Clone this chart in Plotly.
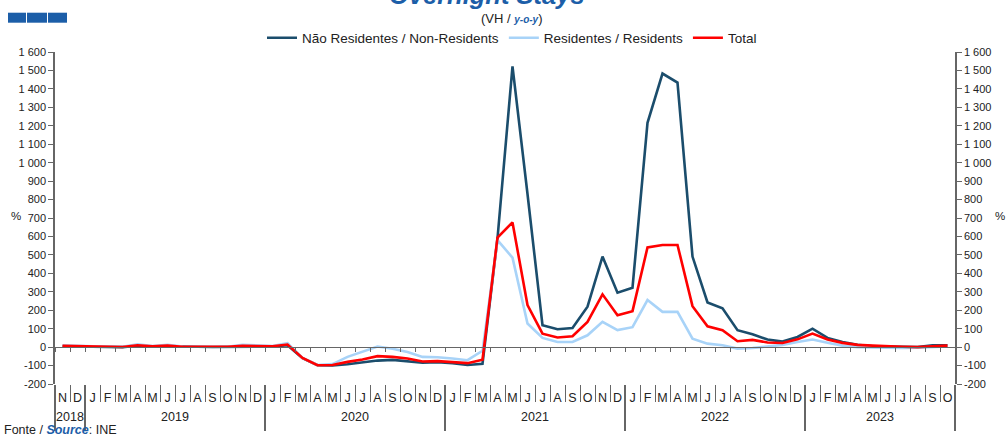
import plotly.graph_objects as go

# ---------------- data ----------------
month_letters = ["J", "F", "M", "A", "M", "J", "J", "A", "S", "O", "N", "D"]
start_year, start_month = 2018, 11  # Nov 2018 .. Oct 2023
n_months = 60

non_residents = [5, 4, 3, 2, 0, 8, 3, 6, 2, 2, 1, 2, 4, 5, 3, 10,
                 -60, -98, -99, -93, -82, -73, -69, -78, -85, -82, -87, -97, -90,
                 590, 1522, 830, 119, 97, 104, 219, 491, 295,
                 322, 1216, 1483, 1434, 491, 242, 210, 92, 70, 41, 30, 55,
                 100, 50, 28, 12, 5, 3, 0, 0, 10, 10]
residents = [10, 6, 5, 3, 2, 15, 6, 12, 3, 2, 3, 2, 12, 8, 6, 22,
             -58, -97, -92, -53, -27, 3, -9, -27, -53, -55, -62, -71, -20,
             580, 485, 128, 50, 28, 28, 64, 137, 92,
             108, 255, 191, 191, 46, 19, 10, -8, -5, 2, 12, 28,
             41, 24, 8, 0, -3, -5, -5, -3, 0, 3]
total = [7, 5, 4, 2, 1, 10, 4, 8, 2, 2, 2, 2, 7, 6, 5, 14,
         -59, -98, -97, -80, -67, -49, -53, -62, -78, -76, -80, -87, -68,
         594, 676, 228, 73, 52, 59, 137, 286, 173,
         195, 540, 554, 554, 222, 113, 92, 32, 39, 25, 22, 42,
         73, 41, 23, 12, 8, 3, 2, 0, 5, 8]

y_ticks = list(range(-200, 1601, 100))
y_ticktext = [f"{v:,}".replace(",", " ") for v in y_ticks]

# month / year label lists
month_labels, year_of_month = [], []
y, m = start_year, start_month
for i in range(n_months):
    month_labels.append(month_letters[m - 1])
    year_of_month.append(y)
    m += 1
    if m > 12:
        m = 1
        y += 1
x_idx = list(range(n_months))
years = sorted(set(year_of_month))
year_labels = [str(yr) for yr in years]
year_first = [year_of_month.index(yr) for yr in years]
year_last = [n_months - 1 - year_of_month[::-1].index(yr) for yr in years]
year_centers = [(a + b) / 2 for a, b in zip(year_first, year_last)]
year_bounds = [a - 0.5 for a in year_first] + [year_last[-1] + 0.5]

FONT = "Liberation Sans, Arial, sans-serif"
DARK = "#1B4D6C"
LIGHT = "#A8D3F8"
RED = "#FF0000"
BLUE = "#1C5EA8"
AX = "#666666"

fig = go.Figure()
fig.add_trace(go.Scatter(x=x_idx, y=non_residents, mode="lines", name="Não Residentes / Non-Residents",
                         line=dict(color=DARK, width=2.6)))
fig.add_trace(go.Scatter(x=x_idx, y=residents, mode="lines", name="Residentes / Residents",
                         line=dict(color=LIGHT, width=2.6)))
fig.add_trace(go.Scatter(x=x_idx, y=total, mode="lines", name="Total",
                         line=dict(color=RED, width=2.6)))
# invisible helper traces so the extra axes (zero line, right axis, year axis) are drawn
fig.add_trace(go.Scatter(x=x_idx, y=total, xaxis="x2", yaxis="y2", mode="lines",
                         line=dict(width=0, color="rgba(0,0,0,0)"), showlegend=False, hoverinfo="skip"))
fig.add_trace(go.Scatter(x=x_idx, y=total, xaxis="x3", yaxis="y", mode="lines",
                         line=dict(width=0, color="rgba(0,0,0,0)"), showlegend=False, hoverinfo="skip"))

W, H = 1006, 437
ML, MR, MT, MB = 55, 51, 52, 53
ph = H - MT - MB
pw = W - ML - MR


def px_to_py(ypx):
    return 1 + (MT - ypx) / ph


def px_to_px(xpx):
    return (xpx - ML) / pw


xr = [-0.5, n_months - 0.5]
fig.update_layout(
    width=W, height=H,
    margin=dict(l=ML, r=MR, t=MT, b=MB, pad=0, autoexpand=False),
    paper_bgcolor="white", plot_bgcolor="white",
    font=dict(family=FONT, size=12, color="#222222"),
    showlegend=True,
    legend=dict(orientation="h", x=px_to_px(512), xanchor="center", y=px_to_py(38), yanchor="middle",
                font=dict(size=13.5, color="#222222"), bgcolor="rgba(0,0,0,0)", itemwidth=30,
                tracegroupgap=0),
    # month letters + month separators
    xaxis=dict(range=xr, tickmode="array", tickvals=x_idx, ticktext=month_labels, ticks="",
               showline=False, showgrid=False, zeroline=False, tickangle=0, automargin=False,
               ticklabelstandoff=4, tickfont=dict(size=12.5, color="#222222"),
               minor=dict(tickmode="linear", tick0=-0.5, dtick=1, ticks="outside", ticklen=17,
                          tickcolor=AX, tickwidth=1, showgrid=False)),
    # axis line with small ticks at value 0
    xaxis2=dict(overlaying="x", anchor="free", position=200 / 1800, range=xr,
                tickmode="linear", tick0=-0.5, dtick=1, ticks="outside", ticklen=4, tickcolor=AX,
                showticklabels=False, showline=True, linecolor=AX, linewidth=1, showgrid=False,
                zeroline=False),
    # years + year separators
    xaxis3=dict(overlaying="x", anchor="y", side="bottom", range=xr, tickmode="array",
                tickvals=year_centers, ticktext=year_labels, ticks="", showline=False, showgrid=False,
                zeroline=False, tickangle=0, automargin=False, ticklabelstandoff=23,
                tickfont=dict(size=12.5, color="#222222"),
                minor=dict(tickmode="array", tickvals=year_bounds, ticks="outside", ticklen=46,
                           tickcolor=AX, tickwidth=1.5, showgrid=False)),
    yaxis=dict(range=[-200, 1600], tickvals=y_ticks, ticktext=y_ticktext, showline=True, linecolor=AX,
               linewidth=1.5, ticks="outside", ticklen=5, tickcolor=AX, showgrid=False, zeroline=False,
               automargin=False, tickfont=dict(size=11, color="#222222")),
    yaxis2=dict(overlaying="y", side="right", anchor="x2", range=[-200, 1600], tickvals=y_ticks,
                ticktext=y_ticktext, showline=True, linecolor=AX, linewidth=1.5, ticks="outside",
                ticklen=5, tickcolor=AX, showgrid=False, zeroline=False, automargin=False,
                tickfont=dict(size=11, color="#222222")),
)

anns = [
    dict(text="<b><i>Overnight Stays</i></b>", x=px_to_px(487), y=px_to_py(-5), xref="paper", yref="paper",
         xanchor="center", yanchor="middle", showarrow=False, font=dict(size=25.5, color=BLUE)),
    dict(text="(VH / <b><i><span style='color:%s;font-size:10px'>y-o-y</span></i></b>)" % BLUE,
         x=px_to_px(511), y=px_to_py(18), xref="paper", yref="paper", xanchor="center", yanchor="middle",
         showarrow=False, font=dict(size=13, color="#222222")),
    dict(text="%", x=px_to_px(16), y=710, xref="paper", yref="y", xanchor="center", yanchor="middle",
         showarrow=False, font=dict(size=11.5, color="#222222")),
    dict(text="%", x=px_to_px(1000), y=710, xref="paper", yref="y", xanchor="center", yanchor="middle",
         showarrow=False, font=dict(size=11.5, color="#222222")),
    dict(text="Fonte / <b><i><span style='color:%s'>Source</span></i></b>: INE" % BLUE,
         x=px_to_px(3), y=px_to_py(429.5), xref="paper", yref="paper", xanchor="left", yanchor="middle",
         showarrow=False, font=dict(size=12.5, color="#222222"), borderpad=0),
]
fig.update_layout(annotations=anns)

shapes = []
for x0, x1 in [(8, 26), (27, 47), (48, 67)]:
    shapes.append(dict(type="rect", xref="paper", yref="paper", x0=px_to_px(x0), x1=px_to_px(x1),
                       y0=px_to_py(22.7), y1=px_to_py(12.7), fillcolor=BLUE, line=dict(width=0)))
fig.update_layout(shapes=shapes)

fig.write_html("out.html", config={"displayModeBar": False},
               post_script="document.body.style.margin='0';document.body.style.overflow='hidden';")
